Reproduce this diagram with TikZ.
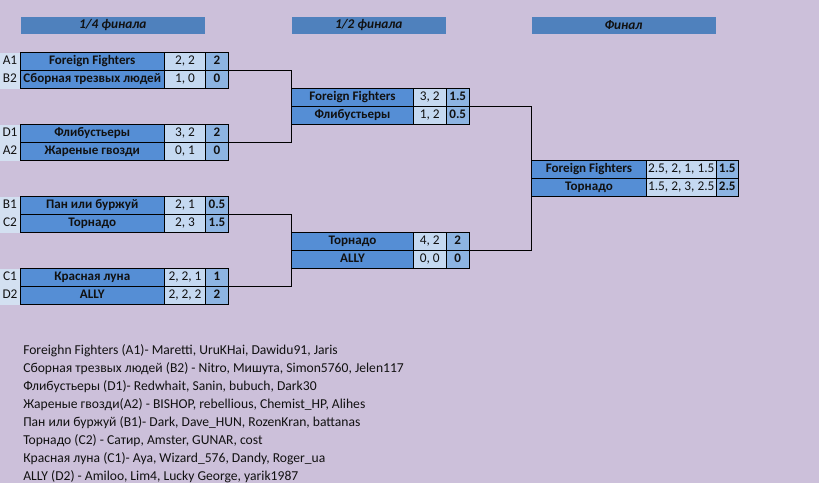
\documentclass[tikz,border=0pt]{standalone}
\usepackage{fontspec}
\setmainfont{Carlito}
\definecolor{bgc}{HTML}{CCC0DA}
\definecolor{hdrc}{HTML}{4F81BD}
\definecolor{namec}{HTML}{558ED5}
\definecolor{scc}{HTML}{C5D9F1}
\definecolor{resc}{HTML}{8DB4E2}
\definecolor{seedc}{HTML}{D3E0F1}
\definecolor{txtc}{HTML}{111111}
\newcommand{\cellfont}{\fontsize{10}{12}\selectfont}
\newcommand{\boldcellfont}{\fontsize{9.8}{12}\selectfont\bfseries}
\newcommand{\rosterfont}{\fontsize{10.2}{12}\selectfont}
\tikzset{
  sz/.style 2 args={minimum width=#1*0.75pt, minimum height=#2*0.75pt},
  cell/.style={rectangle, draw=black, line width=0.75pt, inner sep=0pt, outer sep=0pt,
    anchor=north west, text=txtc, font=\cellfont,
    text height=7pt, text depth=1.9pt},
  seedcell/.style={rectangle, fill=seedc, inner sep=0pt, outer sep=0pt, anchor=north west,
    text=txtc, font=\cellfont, text height=7pt, text depth=1.9pt, sz={20}{18}},
  team/.style={cell, fill=namec, font=\boldcellfont},
  score/.style={cell, fill=scc},
  result/.style={cell, fill=resc, font=\boldcellfont},
  hdr/.style={rectangle, fill=hdrc, inner sep=0pt, outer sep=0pt, anchor=north west,
    text=txtc, font=\cellfont\bfseries\itshape},
  conn/.style={draw=black, line width=0.75pt},
  roster/.style={anchor=west, inner sep=0pt, text=txtc, font=\rosterfont}
}
\newcommand{\qrow}[6]{%
  \node[seedcell] (#1s) at (0,#2) {#3};
  \node[team, sz={144.5}{18}] (#1n) at (20,#2) {#4};
  \node[score, sz={41}{18}] (#1c) at (164.5,#2) {#5};
  \node[result, sz={23}{18}] (#1r) at (205.5,#2) {#6};}
\newcommand{\srow}[5]{%
  \node[team, sz={122}{18}] (#1n) at (291.5,#2) {#3};
  \node[score, sz={32.5}{18}] (#1c) at (413.5,#2) {#4};
  \node[result, sz={23.5}{18}] (#1r) at (446,#2) {#5};}
\newcommand{\frow}[5]{%
  \node[team, sz={115}{18}] (#1n) at (531.5,#2) {#3};
  \node[score, sz={69.5}{18}] (#1c) at (646.5,#2) {#4};
  \node[result, sz={22.5}{18}] (#1r) at (716,#2) {#5};}
\begin{document}
\begin{tikzpicture}[x=0.75pt, y=-0.75pt]
\fill[bgc] (0,0) rectangle (819,483);
\useasboundingbox (0,0) rectangle (819,483);
% headers
\node[hdr, sz={184.5}{17.5}] (h1) at (20.5,16.5) {1/4 финала};
\node[hdr, sz={154.5}{17.5}] (h2) at (291.5,16.5) {1/2 финала};
\node[hdr, sz={184}{17.5}] (h3) at (531.5,16.5) {Финал};
% quarter finals
\qrow{q1a}{52.5}{A1}{Foreign Fighters}{2, 2}{2}
\qrow{q1b}{70.5}{B2}{Сборная трезвых людей}{1, 0}{0}
\qrow{q2a}{124.5}{D1}{Флибустьеры}{3, 2}{2}
\qrow{q2b}{142.5}{A2}{Жареные гвозди}{0, 1}{0}
\qrow{q3a}{196.5}{B1}{Пан или буржуй}{2, 1}{0.5}
\qrow{q3b}{214.5}{C2}{Торнадо}{2, 3}{1.5}
\qrow{q4a}{268.5}{C1}{Красная луна}{2, 2, 1}{1}
\qrow{q4b}{286.5}{D2}{ALLY}{2, 2, 2}{2}
% semi finals
\srow{s1a}{88.5}{Foreign Fighters}{3, 2}{1.5}
\srow{s1b}{106.5}{Флибустьеры}{1, 2}{0.5}
\srow{s2a}{232.5}{Торнадо}{4, 2}{2}
\srow{s2b}{250.5}{ALLY}{0, 0}{0}
% final
\frow{fa}{160.5}{Foreign Fighters}{2.5, 2, 1, 1.5}{1.5}
\frow{fb}{178.5}{Торнадо}{1.5, 2, 3, 2.5}{2.5}
% connectors
\draw[conn] (q1ar.south east) -- (q1ar.south east -| s1an.west) -- (q2ar.south east -| s1an.west) -- (q2ar.south east);
\draw[conn] (q3ar.south east) -- (q3ar.south east -| s2an.west) -- (q4ar.south east -| s2an.west) -- (q4ar.south east);
\draw[conn] (s1ar.south east) -- (s1ar.south east -| fan.west) -- (s2ar.south east -| fan.west) -- (s2ar.south east);
% rosters
\node[roster] (r1) at (23,350.5) {Foreighn Fighters (A1)- Maretti, UruKHai, Dawidu91, Jaris};
\node[roster] (r2) at (23,368.5) {Сборная трезвых людей (B2) - Nitro, Мишута, Simon5760, Jelen117};
\node[roster] (r3) at (23,386.5) {Флибустьеры (D1)- Redwhait, Sanin, bubuch, Dark30};
\node[roster] (r4) at (23,404.5) {Жареные гвозди(A2) - BISHOP, rebellious, Chemist\_HP, Alihes};
\node[roster] (r5) at (23,422.5) {Пан или буржуй (B1)- Dark, Dave\_HUN, RozenKran, battanas};
\node[roster] (r6) at (23,440.5) {Торнадо (C2) - Сатир, Amster, GUNAR, cost};
\node[roster] (r7) at (23,458.5) {Красная луна (C1)- Aya, Wizard\_576, Dandy, Roger\_ua};
\node[roster] (r8) at (23,476.5) {ALLY (D2) - Amiloo, Lim4, Lucky George, yarik1987};
\end{tikzpicture}
\end{document}
